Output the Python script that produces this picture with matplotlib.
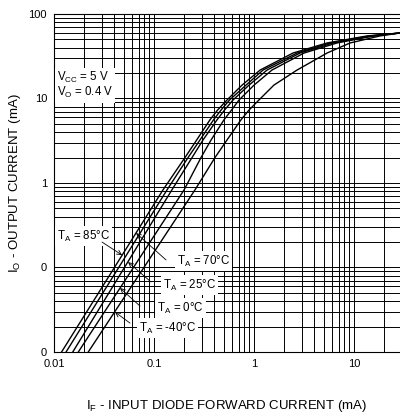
import matplotlib.pyplot as plt
from matplotlib.ticker import NullFormatter

plt.rcParams['font.family'] = ['Liberation Sans', 'DejaVu Sans']
plt.rcParams['mathtext.fontset'] = 'custom'
plt.rcParams['mathtext.rm'] = 'Liberation Sans'
plt.rcParams['mathtext.it'] = 'Liberation Sans:italic'

# output current levels (mA)
io = [0.01, 0.83, 2.0, 3.23, 5.6, 7.3, 9.6, 14.4, 21.7, 34.5, 45.4, 55, 59.6]

# input diode forward current for each curve at those levels (mA)
if_85 = [0.0119, 0.123, 0.204, 0.267, 0.363, 0.432, 0.537, 0.759, 1.15, 2.45, 5.37, 13.5, 28.8]
if_70 = [0.0132, 0.135, 0.219, 0.288, 0.394, 0.468, 0.569, 0.832, 1.23, 2.69, 5.75, 14.5, 28.8]
if_25 = [0.0154, 0.151, 0.240, 0.309, 0.427, 0.507, 0.617, 0.891, 1.35, 2.88, 6.17, 15.1, 28.8]
if_0 = [0.0175, 0.200, 0.295, 0.372, 0.501, 0.596, 0.708, 1.00, 1.51, 3.16, 6.76, 15.8, 28.8]
if_m40 = [0.0220, 0.257, 0.407, 0.537, 0.741, 0.891, 1.12, 1.58, 2.69, 5.37, 9.12, 18.2, 28.8]

x_ticks = [0.01, 0.1, 1, 10]
x_labels = ['0.01', '0.1', '1', '10']
y_ticks = [100, 10, 1, 0.1, 0.01]
y_labels = ['100', '10', '1', '0', '0']

fig = plt.figure(figsize=(4, 4.2), dpi=100)
ax = fig.add_axes([0.135, 0.1619, 0.865, 0.8048])

for xs in [if_85, if_70, if_25, if_0, if_m40]:
    ax.plot(xs, io, color='k', lw=1.0, zorder=3)

ax.set_xscale('log')
ax.set_yscale('log')
ax.set_xlim(0.01, 28.8)
ax.set_ylim(0.01, 100)
ax.set_xticks(x_ticks)
ax.set_xticklabels(x_labels)
ax.set_yticks(y_ticks)
ax.set_yticklabels(y_labels)
ax.xaxis.set_minor_formatter(NullFormatter())
ax.yaxis.set_minor_formatter(NullFormatter())
ax.tick_params(which='both', length=0, labelsize=8)
ax.tick_params(axis='x', pad=5)
ax.tick_params(axis='y', pad=5)
ax.set_axisbelow(True)
ax.grid(which='both', color='k', lw=0.7)
ax.spines['right'].set_visible(False)
for s in ['left', 'bottom', 'top']:
    ax.spines[s].set_linewidth(0.8)

ax.set_xlabel('I$_\\mathrm{F}$ - INPUT DIODE FORWARD CURRENT (mA)', fontsize=9.5, labelpad=21)
ax.set_ylabel('I$_\\mathrm{O}$ - OUTPUT CURRENT (mA)', fontsize=9.5, labelpad=4)

box = dict(facecolor='white', edgecolor='none', pad=1.5)
ax.text(0.0107, 14.3, 'V$_\\mathrm{CC}$ = 5 V\nV$_\\mathrm{O}$ = 0.4 V', fontsize=8.3,
        ha='left', va='center', linespacing=1.0, bbox=box, zorder=4)

# temperature labels with arrows pointing at their curve
labels = [
    ('T$_\\mathrm{A}$ = 85°C', (0.0107, 0.236), (0.0302, 0.200), (0.048, 0.14)),
    ('T$_\\mathrm{A}$ = 70°C', (0.170, 0.119), (0.132, 0.1227), (0.0661, 0.256)),
    ('T$_\\mathrm{A}$ = 25°C', (0.123, 0.0621), (0.0933, 0.0674), (0.055, 0.116)),
    ('T$_\\mathrm{A}$ = 0°C', (0.107, 0.0332), (0.0724, 0.035), (0.0457, 0.0572)),
    ('T$_\\mathrm{A}$ = -40°C', (0.0708, 0.0192), (0.0575, 0.022), (0.0407, 0.0297)),
]
for txt, pos, tail, tip in labels:
    ax.text(pos[0], pos[1], txt, fontsize=8.3, ha='left', va='center', bbox=box, zorder=4)
    ax.annotate('', xy=tip, xytext=tail,
                arrowprops=dict(arrowstyle='->', lw=0.6, color='k',
                                shrinkA=0, shrinkB=0, mutation_scale=8),
                zorder=4)

fig.savefig('out.png', dpi=100)
